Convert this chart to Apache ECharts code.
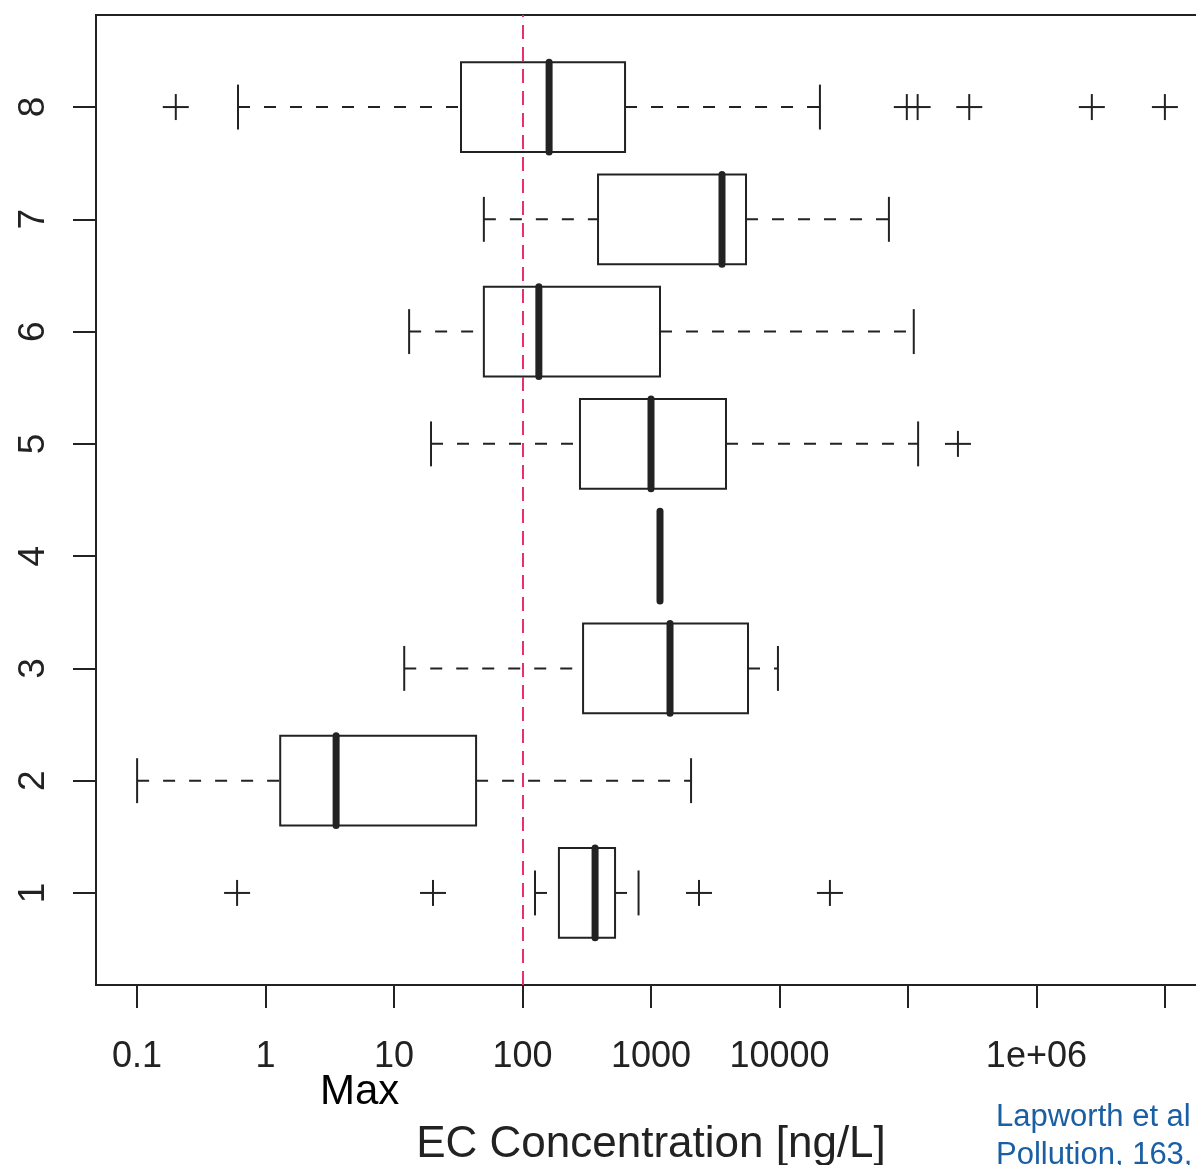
<!DOCTYPE html>
<html>
<head>
<meta charset="utf-8">
<script src="https://cdn.jsdelivr.net/npm/echarts@6/dist/echarts.min.js"></script>
<style>
html,body{margin:0;padding:0;background:#fff;}
#chart{width:1196px;height:1165px;}
</style>
</head>
<body>
<div id="chart"></div>
<script>
// ---- data (ng/L) ----
const groups = [1, 2, 3, 4, 5, 6, 7, 8];
const whiskerLow  = [125, 0.1, 12, 1175, 19.4, 13.1, 50, 0.61];
const q1          = [192, 1.3, 296, 1175, 280, 50, 387, 33.2];
const median      = [367, 3.54, 1406, 1175, 1000, 134, 3570, 161];
const q3          = [525, 43.5, 5690, 1175, 3835, 1175, 5490, 628];
const whiskerHigh = [800, 2050, 9730, 1175, 120000, 111000, 71100, 20650];
const outlierGroup = [1, 1, 1, 1, 5, 8, 8, 8, 8, 8, 8];
const outlierValue = [0.6, 20.1, 2365, 24700, 245000, 0.2, 98000, 119000, 300000, 2700000, 10000000];
const tickValues = [0.1, 1, 10, 100, 1000, 10000, 100000, 1000000, 10000000];
const tickLabels = ['0.1', '1', '10', '100', '1000', '10000', '', '1e+06', ''];
const referenceLine = 100;

const L = v => Math.log10(v);
const FONT = 'Liberation Sans, Arial, sans-serif';
const INK = '#222';

const boxData = groups.map((g, i) => [g, L(whiskerLow[i]), L(q1[i]), L(median[i]), L(q3[i]), L(whiskerHigh[i])]);
const outData = outlierValue.map((v, i) => [L(v), outlierGroup[i]]);
const labelMap = {};
tickValues.forEach((v, i) => { labelMap[Math.round(L(v))] = tickLabels[i]; });

function renderBox(params, api) {
  const g = api.value(0);
  const lo = api.value(1), a = api.value(2), m = api.value(3), b = api.value(4), hi = api.value(5);
  const P = (x, y) => api.coord([x, y]);
  const pLo = P(lo, g), pA = P(a, g), pB = P(b, g), pHi = P(hi, g);
  const top = P(a, g + 0.4)[1], bot = P(a, g - 0.4)[1];
  const capT = P(a, g + 0.2)[1], capB = P(a, g - 0.2)[1];
  const mx = P(m, g)[0];
  const dash = {stroke: INK, lineWidth: 2, lineDash: [12, 14]};
  const solid = {stroke: INK, lineWidth: 2};
  const children = [
    {type: 'line', shape: {x1: pLo[0], y1: pLo[1], x2: pA[0], y2: pA[1]}, style: dash},
    {type: 'line', shape: {x1: pB[0], y1: pB[1], x2: pHi[0], y2: pHi[1]}, style: dash},
    {type: 'line', shape: {x1: pLo[0], y1: capT, x2: pLo[0], y2: capB}, style: solid},
    {type: 'line', shape: {x1: pHi[0], y1: capT, x2: pHi[0], y2: capB}, style: solid},
    {type: 'rect', shape: {x: pA[0], y: top, width: pB[0] - pA[0], height: bot - top}, style: {fill: 'none', stroke: INK, lineWidth: 2}},
    {type: 'line', shape: {x1: mx, y1: top, x2: mx, y2: bot}, style: {stroke: INK, lineWidth: 7, lineCap: 'round'}}
  ];
  return {type: 'group', children};
}

function renderCross(params, api) {
  const p = api.coord([api.value(0), api.value(1)]);
  const s = 13;
  return {type: 'group', children: [
    {type: 'line', shape: {x1: p[0] - s, y1: p[1], x2: p[0] + s, y2: p[1]}, style: {stroke: INK, lineWidth: 2}},
    {type: 'line', shape: {x1: p[0], y1: p[1] - s, x2: p[0], y2: p[1] + s}, style: {stroke: INK, lineWidth: 2}}
  ]};
}

const chart = echarts.init(document.getElementById('chart'), null, {renderer: 'canvas'});
chart.setOption({
  backgroundColor: '#fff',
  animation: false,
  grid: {left: 96, top: 15, right: -10, bottom: 180, outerBoundsMode: 'none', containLabel: false,
    show: true, borderColor: INK, borderWidth: 2, backgroundColor: 'transparent'},
  xAxis: {
    type: 'value', min: -1.32, max: 7.32,
    axisLine: {show: false, onZero: false},
    splitLine: {show: false},
    axisTick: {show: true, length: 23, lineStyle: {color: INK, width: 2}, customValues: tickValues.map(L)},
    axisLabel: {
      customValues: tickValues.map(L).filter((v, i) => tickLabels[i] !== ''),
      formatter: v => labelMap[Math.round(v)] || '',
      fontSize: 36, color: INK, fontFamily: FONT, margin: 54
    },
    name: 'EC Concentration [ng/L]', nameLocation: 'middle', nameGap: 138,
    nameTextStyle: {fontSize: 44, color: INK, fontFamily: FONT}
  },
  yAxis: {
    type: 'value', min: 0.18, max: 8.82,
    axisLine: {show: false, onZero: false},
    splitLine: {show: false},
    axisTick: {show: true, length: 23, lineStyle: {color: INK, width: 2}, customValues: groups},
    axisLabel: {customValues: groups, rotate: 90, fontSize: 37, color: INK, fontFamily: FONT, margin: 44,
      formatter: v => String(Math.round(v))}
  },
  series: [
    {type: 'custom', renderItem: renderBox, data: boxData, encode: {x: [1, 2, 3, 4, 5], y: 0}, z: 2, silent: true},
    {type: 'custom', renderItem: renderCross, data: outData, encode: {x: 0, y: 1}, z: 2, silent: true,
      markLine: {silent: true, symbol: 'none', z: 10, label: {show: false},
        lineStyle: {color: '#e8306a', width: 2, type: [14, 8]},
        data: [{xAxis: L(referenceLine)}]}}
  ],
  graphic: [
    {type: 'text', left: 320, top: 1071, style: {text: 'Max', fontSize: 42, fill: '#000', fontFamily: FONT}},
    {type: 'text', left: 996, top: 1102, style: {text: 'Lapworth et al', fontSize: 31, fill: '#1a5ea4', fontFamily: FONT}},
    {type: 'text', left: 996, top: 1140, style: {text: 'Pollution, 163,', fontSize: 31, fill: '#1a5ea4', fontFamily: FONT}}
  ]
});
</script>
</body>
</html>
